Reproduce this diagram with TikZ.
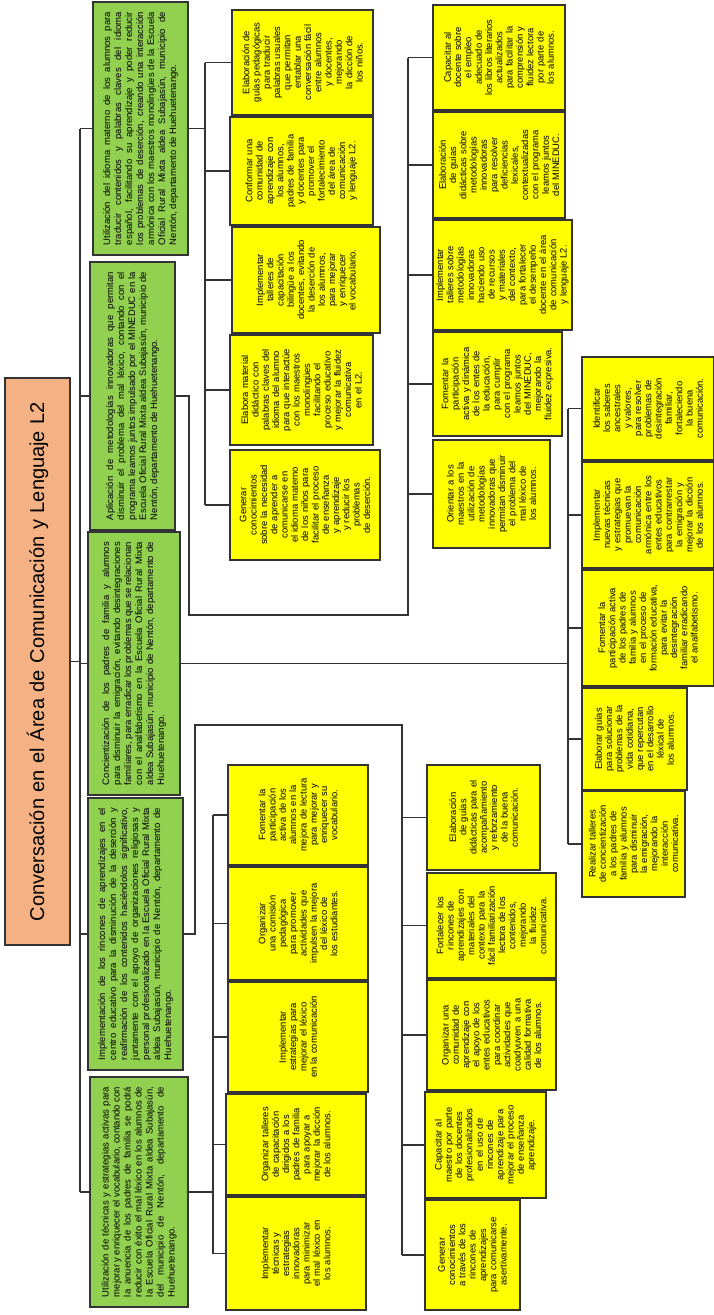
\documentclass[tikz,border=0pt]{standalone}
\usepackage{fontspec}
\setmainfont{Liberation Sans}
\definecolor{grn}{HTML}{92D050}
\definecolor{org}{HTML}{F4B183}
\definecolor{ylw}{HTML}{FFFF00}
\definecolor{edge}{HTML}{333333}
\newcommand\nohyph{\hyphenpenalty=10000\exhyphenpenalty=10000\relax}
\newcommand\bx[8]{%
 \pgfmathsetmacro\bxw{#6-#4}%
 \pgfmathsetmacro\bxh{#5-#3}%
 \pgfmathsetmacro\bxt{#6-#4-#7}%
 \pgfmathsetmacro\bxcx{(#3+#5)/2}%
 \pgfmathsetmacro\bxcy{(#4+#6)/2}%
 \node[#1, minimum width=\bxw pt, minimum height=\bxh pt] (#2) at (\bxcx,\bxcy) {};
 \node[#1 text, text width=\bxt pt] at (#2.center) {#8};}
\tikzset{
 shell/.style={draw=edge, line width=1.3pt, rotate=90, inner sep=0pt, rectangle},
 gbox/.style={shell, fill=grn},
 ybox/.style={shell, fill=ylw},
 rbox/.style={shell, fill=org},
 gbox text/.style={rotate=90, inner sep=0pt, align=justify, font=\fontsize{9.5}{11}\selectfont\nohyph},
 ybox text/.style={rotate=90, inner sep=0pt, align=center, font=\fontsize{9.4}{10.3}\selectfont\nohyph},
 rbox text/.style={rotate=90, inner sep=0pt, align=center, font=\fontsize{20}{24}\selectfont},
 conn/.style={draw=edge, line width=1.1pt}
}
\begin{document}
\begin{tikzpicture}[x=1pt,y=-1pt]
\useasboundingbox (0,0) rectangle (714,1315);
% root
\bx{rbox}{root}{5}{378}{70}{945}{20}{Conversación en el Área de Comunicación y Lenguaje L2}
% green
\bx{gbox}{g1}{93}{2}{188}{255}{20}{Utilización del idioma materno de los alumnos para traducir contenidos y palabras claves del idioma español, facilitando su aprendizaje y poder reducir los problemas de deserción, creando una interacción armónica con los maestros monolingües de la Escuela Oficial Rural Mixta aldea Subajasún, municipio de Nentón, departamento de Huehuetenango.}
\bx{gbox}{g2}{90}{262}{175}{530}{20}{Aplicación de metodologías innovadoras que permitan disminuir el problema del mal léxico, contando con el programa leamos juntos impulsado por el MINEDUC en la Escuela Oficial Rural Mixta aldea Subajasún, municipio de Nentón, departamento de Huehuetenango.}
\bx{gbox}{g3}{88}{532}{180}{795}{20}{Concientización de los padres de familia y alumnos para disminuir la emigración, evitando desintegraciones familiares, para erradicar los problemas que se relacionan con el analfabetismo en la Escuela Oficial Rural Mixta aldea Subajasún, municipio de Nentón, departamento de Huehuetenango.}
\bx{gbox}{g4}{88}{798}{183}{1070}{20}{Implementación de los rincones de aprendizajes en el centro educativo para la disminución de la deserción y reafirmación de los contenidos haciéndolos significativo, juntamente con el apoyo de organizaciones religiosas y personal profesionalizado en la Escuela Oficial Rural Mixta aldea Subajasún, municipio de Nentón, departamento de Huehuetenango.}
\bx{gbox}{g5}{90}{1077}{188}{1307}{20}{Utilización de técnicas y estrategias activas para mejorar y enriquecer el vocabulario, contando con la anuencia de los padres de familia se podrá reducir con éxito el mal léxico en los alumnos de la Escuela Oficial Rural Mixta aldea Subajasún, del municipio de Nentón, departamento de Huehuetenango.}
% column 2 top
\bx{ybox}{y2a}{232}{10}{373}{115}{25}{Elaboración de guías pedagógicas para traducir palabras usuales que permitan entablar una conversación fácil entre alumnos y docentes, mejorando la dicción de los niños.}
\bx{ybox}{y2b}{230}{117}{373}{225}{25}{Conformar una comunidad de aprendizaje con los alumnos, padres de familia y docentes para promover el fortalecimiento del área de comunicación y lenguaje L2.}
\bx{ybox}{y2c}{232}{227}{380}{333}{25}{Implementar talleres de capacitación bilingüe a los docentes, evitando la deserción de los alumnos, para mejorar y enriquecer el vocabulario.}
\bx{ybox}{y2d}{230}{335}{373}{445}{25}{Elabora material didáctico con palabras claves del idioma del alumno para que interactúe con los maestros monolingües facilitando el proceso educativo y mejorar la fluidez comunicativa en el L2.}
\bx{ybox}{y2e}{230}{450}{380}{560}{25}{Generar conocimientos sobre la necesidad de aprender a comunicarse en el idioma materno de los niños para facilitar el proceso de enseñanza y aprendizaje y reducir los problemas de deserción.}
% column 3 top
\bx{ybox}{y3a}{433}{5}{565}{110}{25}{Capacitar al docente sobre el empleo adecuado de los libros literarios actualizados para facilitar la comprensión y fluidez lectora por parte de los alumnos.}
\bx{ybox}{y3b}{433}{112}{565}{218}{25}{Elaboración de guías didácticas sobre metodologías innovadoras para resolver deficiencias lexicales, contextualizadas con el programa leamos juntos del MINEDUC.}
\bx{ybox}{y3c}{433}{220}{572}{330}{25}{Implementar talleres sobre metodologías innovadoras haciendo uso de recursos y materiales del contexto, para fortalecer el desempeño docente en el área de comunicación y lenguaje L2.}
\bx{ybox}{y3d}{433}{332}{562}{436}{25}{Fomentar la participación activa y dinámica de los entes de la educación, para cumplir con el programa leamos juntos del MINEDUC, mejorando la fluidez expresiva.}
\bx{ybox}{y3e}{433}{440}{550}{548}{25}{Orientar a los maestros en la utilización de metodologías innovadoras que permitan disminuir el problema del mal léxico de los alumnos.}
% column 4
\bx{ybox}{y4a}{582}{357}{714}{460}{25}{Identificar los saberes ancestrales y valores, para resolver problemas de desintegración familiar, fortaleciendo la buena comunicación.}
\bx{ybox}{y4b}{582}{462}{714}{568}{25}{Implementar nuevas técnicas y estrategias que promuevan la comunicación armónica entre los entes educativos para contrarrestar la emigración y mejorar la dicción de los alumnos.}
\bx{ybox}{y4c}{582}{570}{714}{686}{25}{Fomentar la participación activa de los padres de familia y alumnos en el proceso de formación educativa, para evitar la desintegración familiar erradicando el analfabetismo.}
\bx{ybox}{y4d}{582}{688}{687}{790}{25}{Elaborar guías para solucionar problemas de la vida cotidiana, que repercutan en el desarrollo léxical de los alumnos.}
\bx{ybox}{y4e}{582}{791}{685}{897}{25}{Realizar talleres de concientización a los padres de familia y alumnos para disminuir la emigración, mejorando la interacción comunicativa.}
% column 2 bottom
\bx{ybox}{y2f}{228}{765}{368}{865}{25}{Fomentar la participación activa de los alumnos en la mejora de lectura para mejorar y enriquecer su vocabulario.}
\bx{ybox}{y2g}{228}{867}{368}{980}{25}{Organizar una comisión pedagógica para promover actividades que impulsen la mejora del léxico de los estudiantes.}
\bx{ybox}{y2h}{228}{982}{368}{1092}{12}{Implementar estrategias para mejorar el léxico en la comunicación}
\bx{ybox}{y2i}{226}{1094}{366}{1195}{25}{Organizar talleres de capacitación dirigidos a los padres de familia para apoyar a mejorar la dicción de los alumnos.}
\bx{ybox}{y2j}{226}{1197}{366}{1310}{25}{Implementar técnicas y estrategias innovadoras para minimizar el mal léxico en los alumnos.}
% column 3 bottom
\bx{ybox}{y3f}{427}{765}{540}{870}{25}{Elaboración de guías didácticas para el acompañamiento y reforzamiento de la buena comunicación.}
\bx{ybox}{y3g}{427}{873}{556}{978}{25}{Fortalecer los rincones de aprendizajes con materiales del contexto para la fácil familiarización lectora de los contenidos, mejorando la fluidez comunicativa.}
\bx{ybox}{y3h}{427}{980}{556}{1090}{25}{Organizar una comunidad de aprendizaje con el apoyo de los entes educativos para coordinar actividades que coadyuven a una calidad formativa de los alumnos.}
\bx{ybox}{y3i}{425}{1092}{546}{1198}{25}{Capacitar al maestro por parte de los docentes profesionalizados en el uso de rincones de aprendizaje para mejorar el proceso de enseñanza aprendizaje.}
\bx{ybox}{y3j}{425}{1200}{520}{1310}{25}{Generar conocimientos a través de los rincones de aprendizajes para comunicarse asertivamente.}
% bracket positions
\coordinate (bR) at (80,0);
\coordinate (b2t) at (205,0);
\coordinate (b3t) at (408,0);
\coordinate (b4) at (568,0);
\coordinate (b2b) at (213,0);
\coordinate (b3b) at (402,0);
\coordinate (k2) at (189,615);
\coordinate (k4) at (195,725);
% root to green
\draw[conn] (root.south) -- (root.south -| bR);
\draw[conn] (bR |- g1.north) -- (bR |- g5.north);
\foreach \g in {g1,g2,g3,g4,g5} \draw[conn] (bR |- \g.north) -- (\g.north);
% g1 -> column 2 top
\draw[conn] (g1.south) -- (g1.south -| b2t);
\draw[conn] (b2t |- y2a.north) -- (b2t |- y2e.north);
\foreach \y in {y2a,y2b,y2c,y2d,y2e} \draw[conn] (b2t |- \y.north) -- (\y.north);
% g2 -> column 3 top
\draw[conn] (g2.south) -| (k2) -| (b3t |- y3a.north);
\foreach \y in {y3a,y3b,y3c,y3d,y3e} \draw[conn] (b3t |- \y.north) -- (\y.north);
% g3 -> column 4
\draw[conn] (g3.south) -- (g3.south -| b4);
\draw[conn] (b4 |- y4a.north) -- (b4 |- y4e.north);
\foreach \y in {y4a,y4b,y4c,y4d,y4e} \draw[conn] (b4 |- \y.north) -- (\y.north);
% g4 -> column 3 bottom
\draw[conn] (g4.south) -| (k4) -| (b3b |- y3j.north);
\foreach \y in {y3f,y3g,y3h,y3i,y3j} \draw[conn] (b3b |- \y.north) -- (\y.north);
% g5 -> column 2 bottom
\draw[conn] (g5.south) -- (g5.south -| b2b);
\draw[conn] (b2b |- y2f.north) -- (b2b |- y2j.north);
\foreach \y in {y2f,y2g,y2h,y2i,y2j} \draw[conn] (b2b |- \y.north) -- (\y.north);
\end{tikzpicture}
\end{document}
